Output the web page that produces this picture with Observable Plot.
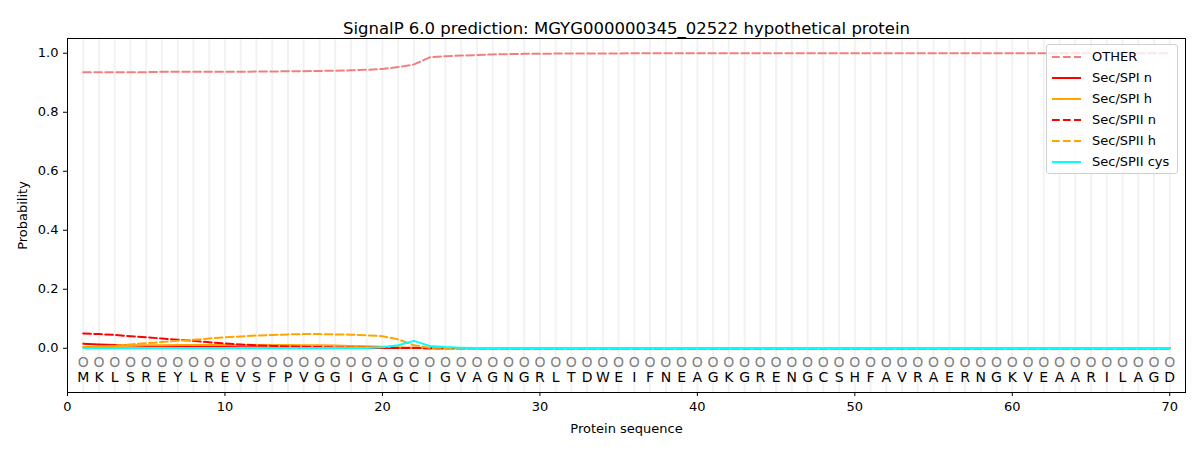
<!DOCTYPE html>
<html>
<head>
<meta charset="utf-8">
<script src="https://cdn.jsdelivr.net/npm/d3@7"></script>
<script src="https://cdn.jsdelivr.net/npm/@observablehq/plot@0.6"></script>
<style>
  body { margin: 0; background: #fff; font-family: "DejaVu Sans", sans-serif; }
  #wrap { position: relative; width: 1200px; height: 450px; }
  #legend { position: absolute; left: 1046px; top: 44px; width: 130px; height: 128px;
    border: 1px solid #d0d0d0; border-radius: 3px; background: rgba(255,255,255,0.8);
    font-size: 13px; color: #000; }
  .row { position: absolute; left: 0; height: 21px; display: flex; align-items: center; }
  .row svg { margin-left: 5px; margin-right: 11px; }
</style>
</head>
<body>
<div id="wrap"></div>
<script>
const sequence = "MKLSREYLREVSFPVGGIGAGCIGVAGNGRLTDWEIFNEAGKGRENGCSHFAVRAERNGKVEAARILAGD".split("");

const other = [0.936,0.936,0.936,0.936,0.936,0.937,0.937,0.937,0.937,0.937,
  0.937,0.938,0.938,0.939,0.939,0.940,0.941,0.942,0.944,0.947,
  0.953,0.962,0.986,0.990,0.992,0.994,0.996,0.997,0.998,0.998,
  0.999,0.999,0.999,0.999,0.999,1,1,1,1,1,
  1,1,1,1,1,1,1,1,1,1, 1,1,1,1,1,1,1,1,1,1, 1,1,1,1,1,1,1,1,1,1];
const spiN = [0.015,0.013,0.011,0.009,0.008,0.007,0.006,0.005,0.004,0.004,
  0.003,0.003,0.002,0.002,0.002,0.001,0.001,0.001,0.001,0.001,
  0.001,0.002,0,0,0,0,0,0,0,0, 0,0,0,0,0,0,0,0,0,0, 0,0,0,0,0,0,0,0,0,0,
  0,0,0,0,0,0,0,0,0,0, 0,0,0,0,0,0,0,0,0,0];
const spiH = [0.004,0.006,0.008,0.009,0.010,0.010,0.011,0.011,0.011,0.011,
  0.011,0.011,0.011,0.011,0.010,0.010,0.009,0.008,0.007,0.005,
  0.003,0.001,0,0,0,0,0,0,0,0, 0,0,0,0,0,0,0,0,0,0, 0,0,0,0,0,0,0,0,0,0,
  0,0,0,0,0,0,0,0,0,0, 0,0,0,0,0,0,0,0,0,0];
const spiiN = [0.050,0.048,0.045,0.041,0.037,0.033,0.029,0.025,0.020,0.016,
  0.013,0.010,0.008,0.006,0.005,0.004,0.003,0.002,0.002,0.001,
  0.001,0.001,0,0,0,0,0,0,0,0, 0,0,0,0,0,0,0,0,0,0, 0,0,0,0,0,0,0,0,0,0,
  0,0,0,0,0,0,0,0,0,0, 0,0,0,0,0,0,0,0,0,0];
const spiiH = [0.002,0.005,0.009,0.013,0.017,0.021,0.025,0.029,0.033,0.037,
  0.040,0.043,0.045,0.047,0.048,0.048,0.047,0.046,0.044,0.041,
  0.030,0.010,0.002,0.001,0,0,0,0,0,0, 0,0,0,0,0,0,0,0,0,0, 0,0,0,0,0,0,0,0,0,0,
  0,0,0,0,0,0,0,0,0,0, 0,0,0,0,0,0,0,0,0,0];
const spiiCys = [0.001,0.001,0.001,0.001,0.001,0.001,0.001,0.001,0.001,0.001,
  0.001,0.001,0.001,0.001,0.001,0.001,0.001,0.001,0.001,0.003,
  0.010,0.025,0.008,0.004,0.002,0.001,0.001,0.001,0.001,0.001,
  0.001,0.001,0.001,0.001,0.001,0.001,0.001,0.001,0.001,0.001,
  0.001,0.001,0.001,0.001,0.001,0.001,0.001,0.001,0.001,0.001,
  0.001,0.001,0.001,0.001,0.001,0.001,0.001,0.001,0.001,0.001,
  0.001,0.001,0.001,0.001,0.001,0.001,0.001,0.001,0.001,0.001];

const seriesDefs = [
  {name: "OTHER", values: other, color: "#f08080", dash: "7.7,3.3"},
  {name: "Sec/SPI n", values: spiN, color: "red", dash: null},
  {name: "Sec/SPI h", values: spiH, color: "orange", dash: null},
  {name: "Sec/SPII n", values: spiiN, color: "red", dash: "7.7,3.3"},
  {name: "Sec/SPII h", values: spiiH, color: "orange", dash: "7.7,3.3"},
  {name: "Sec/SPII cys", values: spiiCys, color: "cyan", dash: null}
];

const positions = sequence.map((_, i) => i + 1);
const letters = sequence.map((s, i) => ({pos: i + 1, aa: s}));

const lineMarks = seriesDefs.map(s => Plot.line(s.values.map((v, i) => ({pos: i + 1, v})), {
  x: "pos", y: "v", stroke: s.color, strokeWidth: 2,
  strokeDasharray: s.dash || undefined
}));

const chart = Plot.plot({
  width: 1200, height: 450,
  marginLeft: 67, marginRight: 15, marginTop: 38, marginBottom: 58,
  style: {fontFamily: "DejaVu Sans, sans-serif", fontSize: "13px", background: "#fff"},
  x: {domain: [0, 71]},
  y: {domain: [-0.15, 1.05]},
  marks: [
    Plot.ruleX(positions, {stroke: "#f2f2f2", strokeWidth: 2}),
    Plot.text(letters, {x: "pos", y: () => -0.047, text: () => "O", fill: "#808080", fontSize: 14}),
    Plot.text(letters, {x: "pos", y: () => -0.10, text: "aa", fill: "#000", fontSize: 14}),
    ...lineMarks,
    Plot.frame({stroke: "#000"}),
    Plot.axisX({ticks: [0,10,20,30,40,50,60,70], tickSize: 4, label: "Protein sequence", labelAnchor: "center", labelArrow: "none", labelOffset: 40, fontSize: 13}),
    Plot.axisY({ticks: [0,0.2,0.4,0.6,0.8,1.0], tickFormat: d3.format(".1f"), tickSize: 4, label: "Probability", labelAnchor: "center", labelArrow: "none", labelOffset: 50, fontSize: 13}),
    Plot.text(["SignalP 6.0 prediction: MGYG000000345_02522 hypothetical protein"], {frameAnchor: "top", dy: -16, text: d => d, fontSize: 16.5, fill: "#000"})
  ]
});

const wrap = document.getElementById("wrap");
wrap.appendChild(chart);

const legend = document.createElement("div");
legend.id = "legend";
seriesDefs.forEach((s, i) => {
  const row = document.createElement("div");
  row.className = "row";
  row.style.top = (1 + i * 21) + "px";
  row.innerHTML = `<svg width="29" height="6"><line x1="0" y1="3" x2="29" y2="3" stroke="${s.color}" stroke-width="2" ${s.dash ? `stroke-dasharray="${s.dash}"` : ""}/></svg><span>${s.name}</span>`;
  legend.appendChild(row);
});
wrap.appendChild(legend);
</script>
</body>
</html>
